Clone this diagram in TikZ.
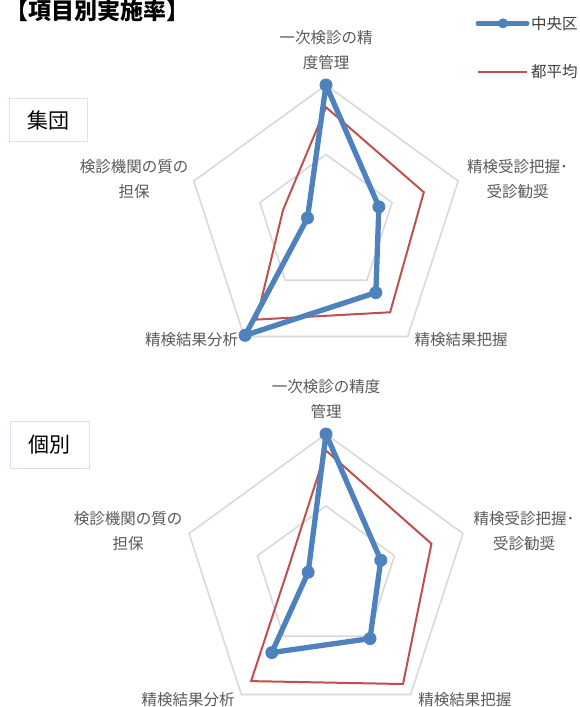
\documentclass[tikz,border=0pt]{standalone}
\usepackage{fontspec}
\newfontfamily\jpfont{Noto Sans CJK JP}
\definecolor{seriesblue}{RGB}{79,129,189}
\definecolor{seriesred}{RGB}{192,80,77}
\definecolor{gridgray}{RGB}{217,217,217}
\definecolor{labelgray}{RGB}{89,89,89}
\definecolor{boxblue}{RGB}{214,226,240}
\newcommand*{\labeltextstyle}{\jpfont\fontsize{15.5}{25}\selectfont\color{labelgray}}
\newcommand*{\legendtextstyle}{\jpfont\fontsize{15.5}{18}\selectfont\color{black!75}}
\newcommand*{\boxtextstyle}{\jpfont\fontsize{21}{24}\selectfont\color{black}}
\newcommand*{\titletextstyle}{\jpfont\bfseries\fontsize{23}{26}\selectfont\color{black}}
\newcommand{\radarchart}[9]{%
   % center x, center y, radius, red values (5), blue values as a list
   \begin{scope}[shift={(#1,#2)}, x=#3pt, y=-#3pt]
      \foreach \f in {0.5,1}
         \draw[gridgray, line width=1.6pt, line join=miter]
            (-90:\f) -- (-18:\f) -- (54:\f) -- (126:\f) -- (198:\f) -- cycle;
      \draw[seriesred, line width=2pt, line join=miter]
         (-90:#4) -- (-18:#5) -- (54:#6) -- (126:#7) -- (198:#8) -- cycle;
      \def\bluevalues{#9}
      \foreach \v [count=\k from 0] in \bluevalues
         \coordinate (p\k) at (-90+72*\k:\v);
      \draw[seriesblue, line width=5.3pt, line join=round]
         (p0) -- (p1) -- (p2) -- (p3) -- (p4) -- cycle;
      \foreach \k in {0,...,4}
         \fill[seriesblue] (p\k) circle[radius=6.5pt];
   \end{scope}
}

\begin{document}
\begin{tikzpicture}[x=1pt, y=-1pt]
    \useasboundingbox (0,0) rectangle (580,707);
    \fill[white] (0,0) rectangle (580,707);

    \node[font=\titletextstyle, anchor=west, inner sep=0pt] (title) at (5,11)
       {【項目別実施率】};

    % legend
    \node[font=\legendtextstyle, anchor=west, inner sep=0pt] (legblue) at (531,23.3) {中央区};
    \node[font=\legendtextstyle, anchor=west, inner sep=0pt] (legred) at (531,71.7) {都平均};
    \coordinate (legbluestart) at (478,23.3);
    \coordinate (legredstart) at (478,71.7);
    \draw[seriesblue, line width=5pt, line cap=round] (legbluestart) -- ([xshift=-4pt]legblue.west);
    \fill[seriesblue] (503,23.3) circle[radius=5pt];
    \draw[seriesred, line width=2pt] (legredstart) -- ([xshift=-4pt]legred.west);

    % group
    \node[draw=boxblue, line width=1pt, minimum width=78pt, minimum height=43.4pt,
       font=\boxtextstyle] (group) at (48.5,120) {集団};

    \radarchart{326}{224}{139}{0.84}{0.74}{0.785}{0.85}{0.325}{1,0.40,0.61,0.99,0.14}

    \node[font=\labeltextstyle, align=center] (gtop) at (326,50.5) {一次検診の精\\度管理};
    \node[font=\labeltextstyle, align=center] (gright) at (517.5,179.5) {精検受診把握･\\受診勧奨};
    \node[font=\labeltextstyle, align=center] (gbright) at (461,340) {精検結果把握};
    \node[font=\labeltextstyle, align=center] (gbleft) at (191.5,340) {精検結果分析};
    \node[font=\labeltextstyle, align=center] (gleft) at (134,179.5) {検診機関の質の\\担保};

    % individual
    \node[draw=boxblue, line width=1pt, minimum width=79.3pt, minimum height=46.6pt,
       font=\boxtextstyle] (indiv) at (49.7,445) {個別};

    \radarchart{326}{578}{144}{0.885}{0.77}{0.91}{0.885}{0.27}{1,0.40,0.52,0.64,0.13}

    \node[font=\labeltextstyle, align=center] (itop) at (326,399.3) {一次検診の精度\\管理};
    \node[font=\labeltextstyle, align=center] (iright) at (524,531) {精検受診把握･\\受診勧奨};
    \node[font=\labeltextstyle, align=center] (ibright) at (464.8,700) {精検結果把握};
    \node[font=\labeltextstyle, align=center] (ibleft) at (188,700) {精検結果分析};
    \node[font=\labeltextstyle, align=center] (ileft) at (128,531.5) {検診機関の質の\\担保};

\end{tikzpicture}
\end{document}
